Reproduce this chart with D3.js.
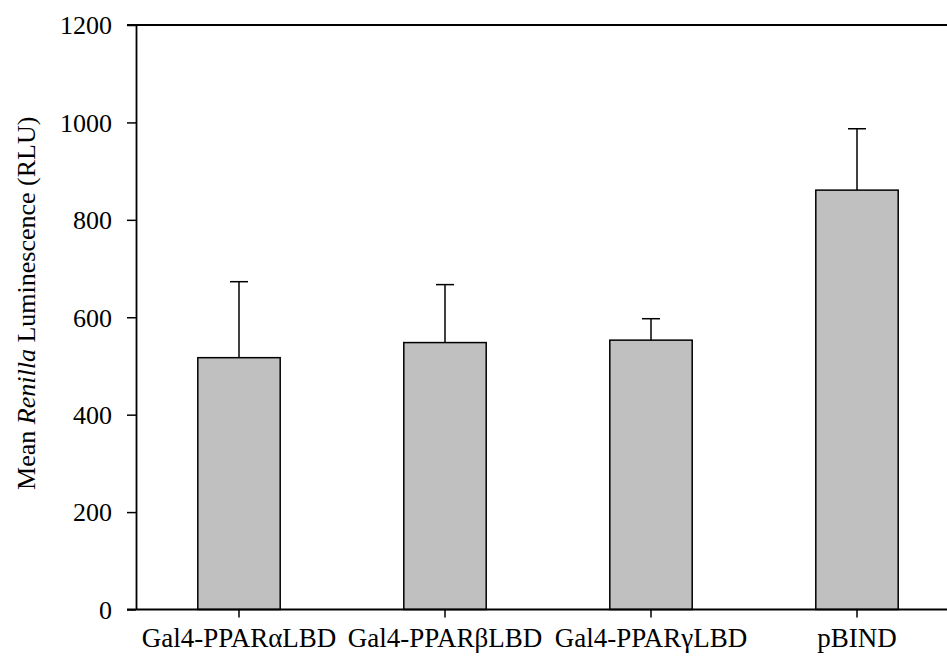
<!DOCTYPE html>
<html>
<head>
<meta charset="utf-8">
<script src="https://cdn.jsdelivr.net/npm/d3@7"></script>
<style>
  html, body { margin: 0; padding: 0; background: #fff; }
  svg { display: block; }
  text { font-family: "Liberation Serif", "Times New Roman", serif; fill: #000; }
</style>
</head>
<body>
<svg id="chart" width="947" height="658"></svg>
<script>
// Constructs and their mean Renilla luminescence with error (upper bar)
const categories = ["Gal4-PPAR\u03B1LBD", "Gal4-PPAR\u03B2LBD", "Gal4-PPAR\u03B3LBD", "pBIND"];
const means = [517, 548, 553, 861];
const errors = [156, 119, 44, 126];
const yTicks = [0, 200, 400, 600, 800, 1000, 1200];

const svg = d3.select("#chart");
const plotLeft = 136, plotRight = 960, plotTop = 25, plotBottom = 609.5;
const tickLen = 9;

const x = d3.scaleBand()
  .domain(categories)
  .range([plotLeft, plotRight])
  .paddingInner(0.6)
  .paddingOuter(0.3);

const y = d3.scaleLinear().domain([0, 1200]).range([plotBottom, plotTop]);

const data = categories.map((c, i) => ({ c, m: means[i], e: errors[i] }));

// bars
svg.append("g").selectAll("rect")
  .data(data)
  .join("rect")
  .attr("x", d => x(d.c))
  .attr("y", d => y(d.m))
  .attr("width", x.bandwidth())
  .attr("height", d => y(0) - y(d.m))
  .attr("fill", "#c0c0c0")
  .attr("stroke", "#000")
  .attr("stroke-width", 1.5);

// upper error bars
const eb = svg.append("g").attr("stroke", "#000").attr("stroke-width", 1.5);
eb.selectAll("line.v")
  .data(data)
  .join("line")
  .attr("class", "v")
  .attr("x1", d => x(d.c) + x.bandwidth() / 2)
  .attr("x2", d => x(d.c) + x.bandwidth() / 2)
  .attr("y1", d => y(d.m))
  .attr("y2", d => y(d.m + d.e));
eb.selectAll("line.cap")
  .data(data)
  .join("line")
  .attr("class", "cap")
  .attr("x1", d => x(d.c) + x.bandwidth() / 2 - 9)
  .attr("x2", d => x(d.c) + x.bandwidth() / 2 + 9)
  .attr("y1", d => y(d.m + d.e))
  .attr("y2", d => y(d.m + d.e));

// y axis
const yAxis = svg.append("g")
  .attr("transform", `translate(${plotLeft},0)`)
  .call(d3.axisLeft(y).tickValues(yTicks).tickFormat(d3.format("d"))
    .tickSize(tickLen).tickPadding(15).tickSizeOuter(0));
yAxis.select(".domain").attr("stroke-width", 1.8);
yAxis.selectAll(".tick line").attr("stroke-width", 1.5);
yAxis.selectAll(".tick text").attr("font-size", 26).attr("dy", "0.34em");

// x axis
const xAxis = svg.append("g")
  .attr("transform", `translate(0,${plotBottom})`)
  .call(d3.axisBottom(x).tickSize(8).tickPadding(10).tickSizeOuter(0));
xAxis.select(".domain").attr("d", `M${plotLeft - tickLen},0H${plotRight}`).attr("stroke-width", 2);
xAxis.selectAll(".tick line").attr("stroke-width", 1.5);
xAxis.selectAll(".tick text").attr("font-size", 27);

// top frame line
svg.append("line")
  .attr("x1", plotLeft - tickLen).attr("x2", plotRight)
  .attr("y1", plotTop).attr("y2", plotTop)
  .attr("stroke", "#000").attr("stroke-width", 1.8);

// y axis title
const title = svg.append("text")
  .attr("transform", `translate(35,${(plotTop + plotBottom) / 2 - 14}) rotate(-90)`)
  .attr("text-anchor", "middle")
  .attr("font-size", 26);
title.append("tspan").text("Mean ");
title.append("tspan").attr("font-style", "italic").text("Renilla");
title.append("tspan").text(" Luminescence (RLU)");
</script>
</body>
</html>
